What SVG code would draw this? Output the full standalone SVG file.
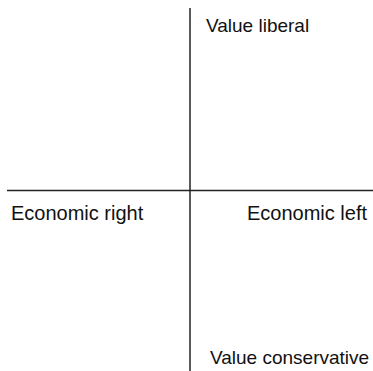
<svg xmlns="http://www.w3.org/2000/svg" width="373" height="371" viewBox="0 0 373 371">
<style>
.ax{stroke:#222;stroke-width:1.5;fill:none}
.lbl{font-family:"Liberation Sans",Arial,Helvetica,sans-serif;font-size:19px;fill:#111}
.eco{font-size:20px}
</style>
<rect width="373" height="371" fill="#fff"/>
<g id="connectors">
<line class="ax" x1="190" y1="8" x2="190" y2="371"/>
<line class="ax" x1="7" y1="190.5" x2="373" y2="190.5"/>
</g>
<g id="value-liberal"><text class="lbl" x="206" y="32">Value liberal</text></g>
<g id="economic-right"><text class="lbl eco" x="11" y="220">Economic right</text></g>
<g id="economic-left"><text class="lbl eco" x="247" y="220">Economic left</text></g>
<g id="value-conservative"><text class="lbl" x="210" y="364">Value conservative</text></g>
</svg>
